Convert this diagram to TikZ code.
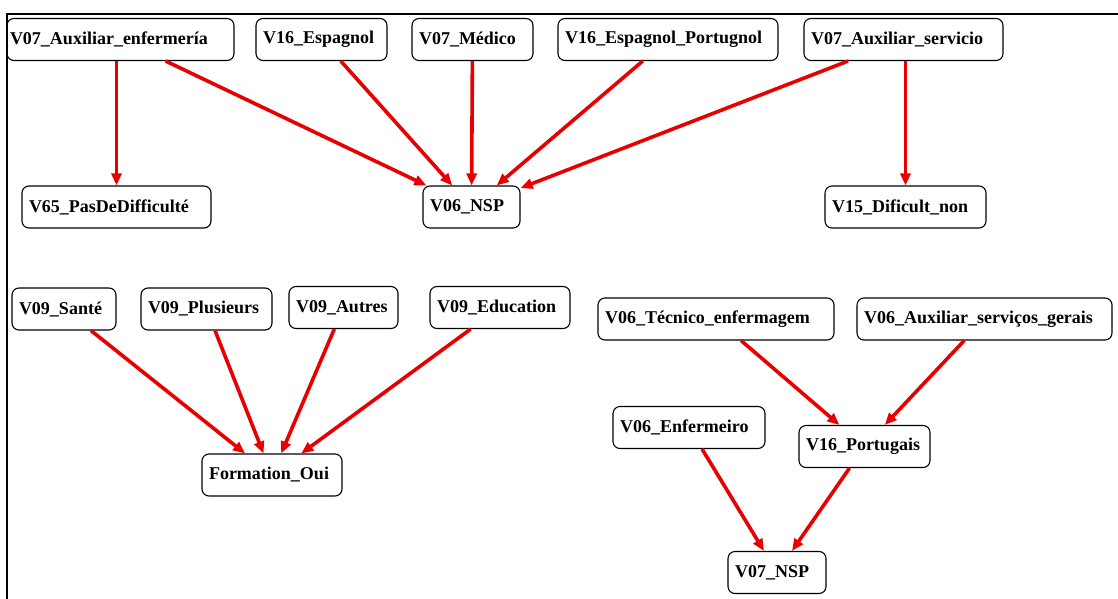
\documentclass[tikz,border=0pt]{standalone}
\usepackage{fontspec}
\setmainfont{Liberation Serif}
\usetikzlibrary{arrows.meta}
\definecolor{edgered}{RGB}{232,0,0}
\begin{document}
\begin{tikzpicture}[x=1pt,y=-1pt,
  box/.style={draw=black, line width=1.1pt, rounded corners=7pt, minimum height=42pt,
    inner xsep=7pt, inner ysep=0pt, align=left, text width=#1,
    font=\fontsize{18}{21}\selectfont\bfseries},
  edge/.style={draw=edgered, line width=3.6pt, -{Triangle[length=12pt,width=10pt]}}]
\useasboundingbox (0,0) rectangle (1118,599);
\draw[line width=2.5pt] (7,599) -- (7,14) -- (1118,14);
% top cluster
\node[box=213pt] (aenf) at (120.5,39.5) {\hspace*{-4pt}V07\_Auxiliar\_enfermería};
\node[box=117pt] (esp) at (321.5,39.5) {V16\_Espagnol};
\node[box=107pt] (med) at (472.5,39.5) {V07\_Médico};
\node[box=206pt] (espport) at (668,39.5) {V16\_Espagnol\_Portugnol};
\node[box=185pt] (serv) at (903.5,39.5) {V07\_Auxiliar\_servicio};
\node[box=175pt] (pas) at (116.5,207) {V65\_PasDeDifficulté};
\node[box=83pt] (nsp) at (471.5,207) {V06\_NSP};
\node[box=147pt] (dif) at (905.5,207) {V15\_Dificult\_non};
% formation cluster
\node[box=90pt] (sante) at (64,309) {V09\_Santé};
\node[box=117pt] (plus) at (206.5,309) {V09\_Plusieurs};
\node[box=95pt] (autres) at (343.5,307.5) {V09\_Autres};
\node[box=126pt] (edu) at (500,307.5) {V09\_Education};
\node[box=126pt] (form) at (272,475) {Formation\_Oui};
% portuguese cluster
\node[box=222pt] (tec) at (716,319) {V06\_Técnico\_enfermagem};
\node[box=241pt] (agerais) at (984.5,319) {V06\_Auxiliar\_serviços\_gerais};
\node[box=138pt] (enf) at (689,427.5) {V06\_Enfermeiro};
\node[box=117pt] (port) at (864.5,446.5) {V16\_Portugais};
\node[box=84pt] (nsp7) at (777,572.5) {V07\_NSP};
% edges
\draw[edge] (aenf.south -| pas) -- (pas);
\draw[edge] (aenf) -- (nsp);
\draw[edge] (esp) -- (nsp);
\draw[edge] (med) -- (nsp);
\draw[edge] (espport) -- (nsp);
\draw[edge] (serv) -- (nsp);
\draw[edge] (serv.south -| dif) -- (dif);
\draw[edge] (sante) -- (form);
\draw[edge] (plus) -- (form);
\draw[edge] (autres) -- (form);
\draw[edge] (edu) -- (form);
\draw[edge] (tec) -- (port);
\draw[edge] (agerais) -- (port);
\draw[edge] (enf) -- (nsp7);
\draw[edge] (port) -- (nsp7);
\end{tikzpicture}
\end{document}
